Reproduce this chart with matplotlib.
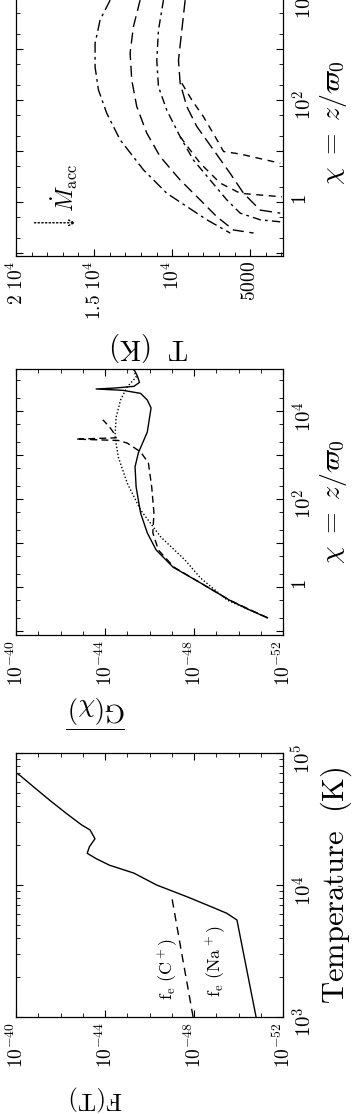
import matplotlib
matplotlib.use('Agg')
import matplotlib.pyplot as plt
from matplotlib.ticker import NullFormatter
import numpy as np

plt.rcParams['mathtext.fontset'] = 'cm'
plt.rcParams['font.family'] = 'serif'

# ---- panel 1 (top): temperature profiles T(chi), several accretion rates
# values: log10(chi) and T in K
t_log_chi = [
    [3.96, 3.57, 3.11, 2.65, 2.20, 1.74, 1.22, 0.63, 0.17, -0.09, -0.35, -0.61],
    [3.96, 3.44, 2.92, 2.39, 1.87, 1.35, 0.89, 0.43, 0.04, -0.29, -0.55, -0.61],
    [3.96, 3.37, 2.78, 2.26, 1.80, 1.28, 0.82, 0.43, 0.04, -0.22, -0.35, -0.39],
    [3.96, 3.37, 2.78, 2.33, 1.87, 1.48, 1.02, 0.56, 0.17, -0.16, -0.22],
    [2.33, 2.00, 1.67, 1.28, 0.99, 0.94, 0.76],
    [1.28, 0.76, 0.37, 0.17, 0.10],
]
t_kelvin = [
    [13970, 14615, 14936, 14936, 14722, 14188, 13333, 11838, 10342, 9060, 7778, 6282],
    [12051, 12479, 12692, 12585, 12265, 11624, 10769, 9487, 8205, 7137, 6068, 4786],
    [10556, 10876, 10983, 10876, 10342, 9487, 8632, 7564, 6496, 5641, 4359, 3077],
    [9167, 9380, 9594, 9487, 9060, 8419, 7350, 6282, 5427, 4359, 3077],
    [9380, 8739, 7992, 7244, 6709, 5641, 3077],
    [9487, 8205, 6923, 5641, 2970],
]
t_styles = [(0, (8, 3, 2, 3)), (0, (8, 4)), (0, (6, 3, 2, 3)),
            (0, (9, 4)), (0, (5, 4)), (0, (5, 4))]
t_ticks = [20000, 15000, 10000, 5000]
t_ticklabels = [r'$2\ 10^4$', r'$1.5\ 10^4$', r'$10^4$', r'$5000$']

# ---- panel 2 (middle): |G(chi)|, log10 values
g_solid_logchi = [-0.70, -0.50, -0.30, 0.09, 0.45, 0.84, 1.23, 1.68, 2.27, 2.73, 3.05,
                  3.52, 4.07, 4.25, 4.40, 4.47, 4.50, 4.52, 4.56, 4.65, 4.80, 4.95]
g_solid_logg = [-51.3, -50.4, -49.6, -48.3, -47.06, -46.3, -45.9, -45.6, -45.4, -45.35, -45.5,
                -45.9, -46.07, -45.9, -45.6, -44.8, -43.6, -44.4, -45.3, -45.55, -45.45, -45.3]
g_dash_logchi = [-0.70, -0.30, 0.09, 0.45, 0.84, 1.23, 1.68, 2.27, 2.82, 3.07, 3.27,
                 3.33, 3.36, 3.39, 3.50, 3.64, 3.80]
g_dash_logg = [-51.3, -49.6, -48.3, -47.1, -46.4, -46.15, -46.2, -46.1, -45.95, -45.6, -45.0,
               -44.6, -42.7, -44.5, -44.4, -44.2, -43.9]
g_dot_logchi = [-0.70, -0.30, 0.20, 0.61, 1.14, 1.75, 2.36, 2.95, 3.41, 3.86, 4.25,
                4.55, 4.77, 4.93]
g_dot_logg = [-51.3, -49.5, -48.3, -47.6, -46.5, -45.6, -45.0, -44.6, -44.45, -44.5, -44.7,
              -45.0, -45.4, -45.3]

# ---- panel 3 (bottom): F(T), log10 values
f_na_logt = [3.0, 3.735, 3.786, 3.83, 3.91, 4.0, 4.09, 4.15, 4.20, 4.24, 4.29, 4.35,
             4.417, 4.455, 4.54, 4.64, 4.745, 4.83, 4.85]
f_na_logf = [-50.79, -49.93, -49.47, -48.85, -47.7, -46.32, -45.3, -44.2, -43.6, -43.2,
             -43.3, -43.55, -43.33, -42.95, -42.28, -41.53, -40.78, -40.18, -40.0]
f_c_logt = [3.0, 3.48, 3.91]
f_c_logf = [-47.96, -47.45, -47.0]

f_ticks = [1e-40, 1e-44, 1e-48, 1e-52]
f_ticklabels = [r'$10^{-40}$', r'$10^{-44}$', r'$10^{-48}$', r'$10^{-52}$']

W, H = 353, 1114
fig = plt.figure(figsize=(W / 100, H / 100), dpi=100)


def box(x0, y0, x1, y1):
    # pixel box (top-left origin) -> figure fraction
    return [x0 / W, 1 - y1 / H, (x1 - x0) / W, (y1 - y0) / H]


def style(ax):
    ax.tick_params(which='both', direction='in', top=True, bottom=True,
                   left=True, right=True, labelleft=False, labelright=True,
                   labeltop=False, labelbottom=True, labelsize=15)
    ax.tick_params(axis='x', labelsize=14)
    ax.tick_params(axis='y', pad=6)
    ax.tick_params(axis='both', labelrotation=90)
    ax.tick_params(which='major', length=5, width=0.8)
    ax.tick_params(which='minor', length=3, width=0.6)
    ax.yaxis.set_label_position('right')
    for s in ax.spines.values():
        s.set_linewidth(0.9)


def chi_axis(ax, lo, hi):
    ax.set_yscale('log')
    dec = [10.0 ** k for k in range(-1, 6)]
    labs = {0: r'$1$', 2: r'$10^2$', 4: r'$10^4$'}
    ax.set_yticks(dec, [labs.get(k, '') for k in range(-1, 6)])
    ax.set_yticks([m * 10.0 ** k for k in range(-2, 6) for m in (2, 5)], minor=True)
    ax.yaxis.set_minor_formatter(NullFormatter())
    ax.set_ylim(lo, hi)
    ax.set_ylabel(r'$\chi\ =\ z/\varpi_0$', fontsize=20, rotation=90, labelpad=2)


def f_axis(ax):
    ax.set_xscale('log')
    ax.set_xticks(f_ticks, f_ticklabels)
    ax.set_xticks([10.0 ** k for k in range(-52, -39)], minor=True)
    ax.xaxis.set_minor_formatter(NullFormatter())
    ax.set_xlim(1e-40, 1e-52)


# panel 1
ax1 = fig.add_axes(box(16, -10, 283, 256))
style(ax1)
for lc, tk, ls in zip(t_log_chi, t_kelvin, t_styles):
    ax1.plot(tk, 10 ** np.array(lc), color='k', lw=1.0, linestyle=ls)
ax1.set_xticks(t_ticks, t_ticklabels)
ax1.set_xticks(np.arange(3000, 20001, 1000), minor=True)
ax1.set_xlim(20000, 2900)
chi_axis(ax1, 0.087, 1.44e4)
ax1.set_xlabel(r'$\mathrm{T\ \ (K)}$', fontsize=20, rotation=180)
ax1.xaxis.set_label_coords(0.5, -0.28)
ax1.annotate('', xy=(16000, 0.39), xytext=(19000, 0.39),
             arrowprops=dict(arrowstyle='->', color='k', lw=1.0, linestyle=':'))
ax1.text(16900, 1.9, r'$\dot{M}_{\rm acc}$', rotation=90, fontsize=17,
         ha='center', va='center')

# panel 2
ax2 = fig.add_axes(box(16, 369, 283, 635))
style(ax2)
ax2.plot(10 ** np.array(g_solid_logg), 10 ** np.array(g_solid_logchi), color='k', lw=1.0)
ax2.plot(10 ** np.array(g_dash_logg), 10 ** np.array(g_dash_logchi), color='k', lw=1.0,
         linestyle=(0, (5, 3)))
ax2.plot(10 ** np.array(g_dot_logg), 10 ** np.array(g_dot_logchi), color='k', lw=1.0,
         linestyle=(0, (1, 1.5)))
f_axis(ax2)
chi_axis(ax2, 0.081, 9.0e4)
ax2.text(0.30, -0.29, r'$\overline{\mathrm{G}(\chi)}$', transform=ax2.transAxes,
         rotation=180, fontsize=19, ha='center', va='center')

# panel 3
ax3 = fig.add_axes(box(16, 753, 283, 1017))
style(ax3)
ax3.plot(10 ** np.array(f_na_logf), 10 ** np.array(f_na_logt), color='k', lw=1.0)
ax3.plot(10 ** np.array(f_c_logf), 10 ** np.array(f_c_logt), color='k', lw=1.0,
         linestyle=(0, (6, 4)))
f_axis(ax3)
ax3.set_yscale('log')
ax3.set_yticks([1e3, 1e4, 1e5], [r'$10^3$', r'$10^4$', r'$10^5$'])
ax3.yaxis.set_minor_formatter(NullFormatter())
ax3.set_ylim(1e3, 1e5)
ax3.set_ylabel(r'$\mathrm{Temperature\ \ (K)}$', fontsize=22, rotation=90, labelpad=2)
ax3.text(10 ** -46.85, 10 ** 3.36, r'$\mathrm{f_e\ (C^+)}$', rotation=90, fontsize=13,
         ha='center', va='center')
ax3.text(10 ** -49.0, 10 ** 3.42, r'$\mathrm{f_e\ (Na^+)}$', rotation=90, fontsize=13,
         ha='center', va='center')
ax3.text(0.30, -0.305, r'$\mathrm{F(T)}$', transform=ax3.transAxes,
         rotation=180, fontsize=18, ha='center', va='center')

fig.savefig('out.png', dpi=100)
